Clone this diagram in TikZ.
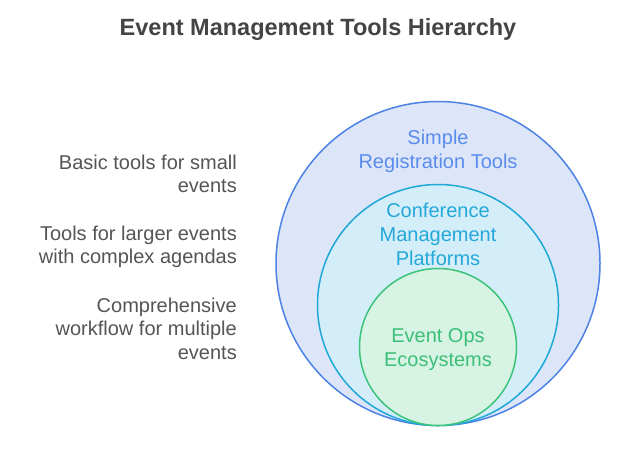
\documentclass[tikz,border=0pt]{standalone}
\usepackage{fontspec}
\setmainfont{Liberation Sans}
\definecolor{titlegray}{HTML}{444444}
\definecolor{descgray}{HTML}{555555}
\definecolor{outerfill}{HTML}{DDE6F8}
\definecolor{outerline}{HTML}{4C82E6}
\definecolor{outertext}{HTML}{5A8CEE}
\definecolor{midfill}{HTML}{D3EEF9}
\definecolor{midline}{HTML}{1FA8D6}
\definecolor{midtext}{HTML}{24A8DA}
\definecolor{innfill}{HTML}{D6F3E3}
\definecolor{innline}{HTML}{3CC37A}
\definecolor{inntext}{HTML}{3CBF78}
\begin{document}
\begin{tikzpicture}[x=1pt,y=-1pt,
  ring/.style={line width=1.5pt},
  lbl/.style={font=\fontsize{20}{24}\selectfont, align=center, inner sep=0pt, anchor=base},
  desc/.style={font=\fontsize{20}{23.5}\selectfont, text=descgray, align=right, inner sep=0pt, anchor=base east}]
\useasboundingbox[fill=white] (0,0) rectangle (636,453);
\node[font=\fontsize{23.5}{28}\selectfont\bfseries, text=titlegray, inner sep=0pt, anchor=base] (title) at (318,35.7) {Event Management Tools Hierarchy};
\draw[ring, draw=outerline, fill=outerfill] (438,263.5) circle[radius=162];
\draw[ring, draw=midline, fill=midfill] (438,305) circle[radius=120.5];
\draw[ring, draw=innline, fill=innfill] (438,347) circle[radius=78.5];
\node[lbl, text=outertext] (simple) at (438,168.3) {Simple\\Registration Tools};
\node[lbl, text=midtext] (conf) at (438,265) {Conference\\Management\\Platforms};
\node[lbl, text=inntext] (ops) at (438,366.7) {Event Ops\\Ecosystems};
\node[desc] (d1) at (237,192.5) {Basic tools for small\\events};
\node[desc] (d2) at (237,263.5) {Tools for larger events\\with complex agendas};
\node[desc] (d3) at (237,359) {Comprehensive\\workflow for multiple\\events};
\end{tikzpicture}
\end{document}
